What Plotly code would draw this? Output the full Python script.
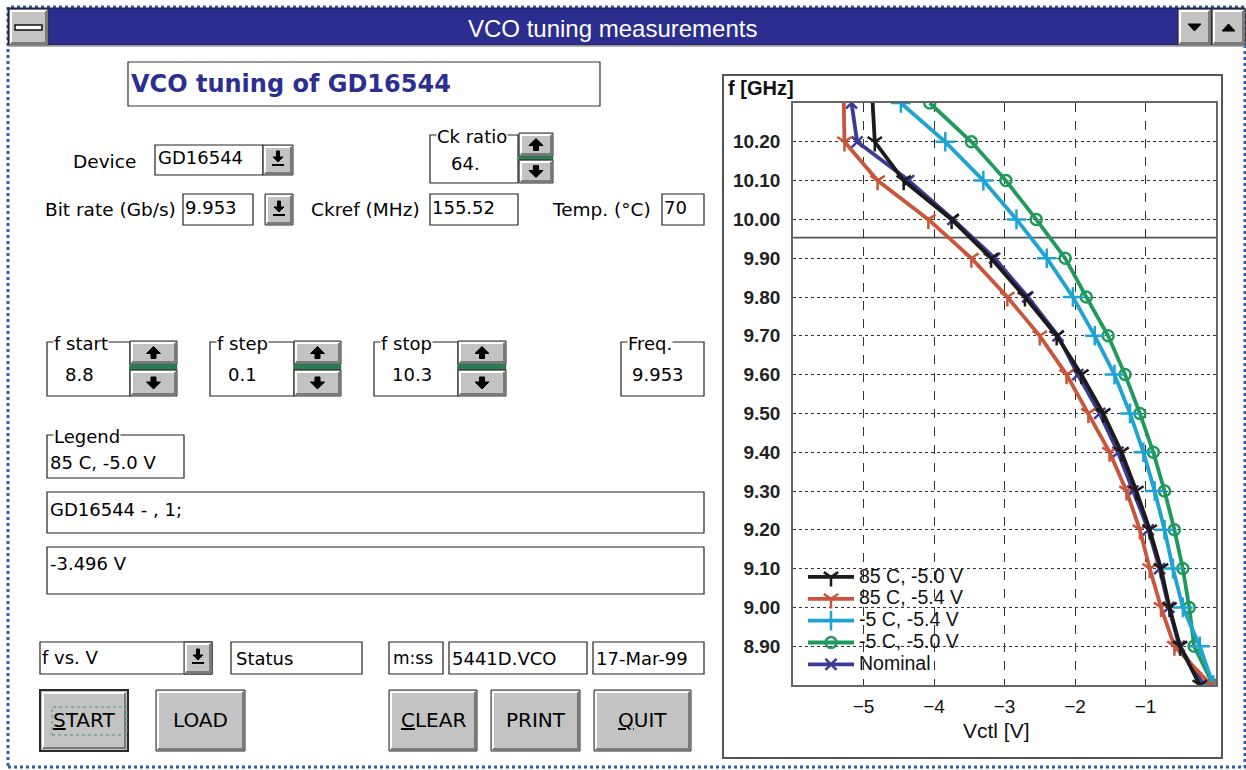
import plotly.graph_objects as go

W, H = 1246, 770
FONT = "Liberation Sans"
GUI = "DejaVu Sans"

# ---------------- data ----------------
f_ghz = [8.8, 8.9, 9.0, 9.1, 9.2, 9.3, 9.4, 9.5, 9.6, 9.7, 9.8, 9.9, 10.0, 10.1, 10.2, 10.3]
v_85c_50 = [-0.23, -0.51, -0.66, -0.78, -0.94, -1.13, -1.34, -1.60, -1.91, -2.26, -2.71, -3.19, -3.75, -4.43, -4.84, -4.87]
v_85c_54 = [-0.07, -0.59, -0.78, -0.94, -1.08, -1.27, -1.51, -1.81, -2.12, -2.50, -2.96, -3.47, -4.08, -4.80, -5.27, -5.28]
v_m5c_54 = [-0.04, -0.23, -0.47, -0.61, -0.73, -0.87, -1.03, -1.22, -1.44, -1.72, -2.03, -2.40, -2.83, -3.30, -3.84, -4.47]
v_m5c_50 = [-0.04, -0.31, -0.38, -0.47, -0.59, -0.73, -0.89, -1.08, -1.29, -1.53, -1.84, -2.14, -2.55, -2.98, -3.47, -4.06]
v_nominal = [-0.17, -0.52, -0.67, -0.80, -0.96, -1.18, -1.39, -1.65, -1.96, -2.24, -2.67, -3.14, -3.73, -4.36, -5.09, -5.17]
series_names = ["85 C, -5.0 V", "85 C, -5.4 V", "-5 C, -5.4 V", "-5 C, -5.0 V", "Nominal"]
x_ticks = [-5, -4, -3, -2, -1]
y_ticks = [8.9, 9.0, 9.1, 9.2, 9.3, 9.4, 9.5, 9.6, 9.7, 9.8, 9.9, 10.0, 10.1, 10.2]
x_range = [-6, 0]
y_range = [8.8, 10.3]
freq_marker = 9.953

# ---------------- styles ----------------
styles = {
    "85 C, -5.0 V": dict(color="#1b1b1b", symbol="y-down", size=12, rank=1),
    "85 C, -5.4 V": dict(color="#c9553b", symbol="y-down", size=12, rank=2),
    "-5 C, -5.4 V": dict(color="#1ea3d2", symbol="cross-thin", size=14, rank=3),
    "-5 C, -5.0 V": dict(color="#1f9a5c", symbol="circle-open", size=11, rank=4),
    "Nominal": dict(color="#3c3a96", symbol="x-thin", size=11, rank=5),
}
values = dict(zip(series_names, [v_85c_50, v_85c_54, v_m5c_54, v_m5c_50, v_nominal]))
draw_order = ["Nominal", "-5 C, -5.0 V", "-5 C, -5.4 V", "85 C, -5.4 V", "85 C, -5.0 V"]


def px(x):
    return x / W


def py(y):
    return 1 - y / H


shapes = []
annotations = []


def rect(x0, y0, x1, y1, fill=None, color="#000", lw=1, dash="solid"):
    shapes.append(dict(type="rect", xref="paper", yref="paper", x0=px(x0), x1=px(x1),
                       y0=py(y1), y1=py(y0), fillcolor=fill if fill else "rgba(0,0,0,0)",
                       line=dict(color=color, width=lw, dash=dash), layer="above"))


def poly(points, fill=None, color="#000", lw=1, closed=True):
    d = "M " + " L ".join(f"{px(x):.5f},{py(y):.5f}" for x, y in points)
    if closed:
        d += " Z"
    shapes.append(dict(type="path", xref="paper", yref="paper", path=d,
                       fillcolor=fill if fill else "rgba(0,0,0,0)",
                       line=dict(color=color, width=lw), layer="above"))


def text(x, y, s, size=18, color="#000", bold=False, xanchor="left", bg=None, family=GUI):
    annotations.append(dict(xref="paper", yref="paper", x=px(x), y=py(y), text=s,
                            showarrow=False, xanchor=xanchor, yanchor="middle",
                            font=dict(family=family, size=size, color=color,
                                      weight="bold" if bold else "normal"),
                            bgcolor=bg if bg else "rgba(0,0,0,0)", borderpad=0))


def bevel(x0, y0, x1, y1, thick=False):
    rect(x0, y0, x1, y1, fill="#c3c3c3", color="#2a2a2a", lw=2 if thick else 1)
    o = 3 if thick else 2
    poly([(x0 + o, y1 - o), (x0 + o, y0 + o), (x1 - o, y0 + o)], color="#ffffff", lw=2, closed=False)
    poly([(x0 + o, y1 - o), (x1 - o, y1 - o), (x1 - o, y0 + o)], color="#7a7a7a", lw=2, closed=False)


def arrow_up(cx, cy):
    poly([(cx, cy - 6), (cx + 7, cy + 1), (cx + 2.5, cy + 1), (cx + 2.5, cy + 6),
          (cx - 2.5, cy + 6), (cx - 2.5, cy + 1), (cx - 7, cy + 1)], fill="#000", color="#000", lw=1)


def arrow_down(cx, cy):
    poly([(cx, cy + 6), (cx + 7, cy - 1), (cx + 2.5, cy - 1), (cx + 2.5, cy - 6),
          (cx - 2.5, cy - 6), (cx - 2.5, cy - 1), (cx - 7, cy - 1)], fill="#000", color="#000", lw=1)


def drop_arrow(cx, cy):
    poly([(cx, cy + 4), (cx + 5, cy - 1), (cx + 1.5, cy - 1), (cx + 1.5, cy - 7),
          (cx - 1.5, cy - 7), (cx - 1.5, cy - 1), (cx - 5, cy - 1)], fill="#000", color="#000", lw=1)
    poly([(cx - 6, cy + 7), (cx + 6, cy + 7)], color="#000", lw=2, closed=False)


def spinner(x0, x1, y0, y1, mid0, mid1):
    bevel(x0, y0, x1, mid0)
    rect(x0, mid0, x1, mid1, fill="#2d7a52", color="#2d7a52", lw=0.5)
    bevel(x0, mid1, x1, y1)
    arrow_up((x0 + x1) / 2, (y0 + mid0) / 2)
    arrow_down((x0 + x1) / 2, (mid1 + y1) / 2)


def group(x0, y0, x1, y1, title, value, vx):
    rect(x0, y0, x1, y1, color="#222", lw=1.2)
    text(x0 + 6, y0 + 1, title, size=18, bg="#ffffff")
    if value:
        text(vx, (y0 + y1) / 2 + 5, value, size=18)


# ---------------- window chrome ----------------
rect(8, 7, 1245, 767, color="#2f5fa8", lw=3, dash="dot")
rect(8, 8, 1245, 45, fill="#2b2e8f", color="#1a1a40", lw=1)
bevel(9, 9, 48, 45)
rect(15, 25, 42, 30, fill="#ffffff", color="#111", lw=1.5)
bevel(1178, 9, 1211, 45)
bevel(1212, 9, 1245, 45)
poly([(1188, 24), (1201, 24), (1194.5, 31)], fill="#000", color="#000")
poly([(1222, 31), (1235, 31), (1228.5, 24)], fill="#000", color="#000")
text(612, 28, "VCO tuning measurements", size=24, color="#ffffff", xanchor="center", family=FONT)
poly([(8, 46), (1245, 46)], color="#9a9a9a", lw=1.5, closed=False)

# ---------------- left panel ----------------
rect(128, 62, 600, 106, color="#333", lw=1.2)
text(130, 84, "VCO tuning of GD16544", size=24, color="#2b2f8f", bold=True)

text(72, 161, "Device", size=18.5)
rect(155, 145, 263, 175, color="#222", lw=1.2)
text(157, 158, "GD16544", size=18)
bevel(263, 145, 293, 175)
drop_arrow(278, 158)

group(430, 135, 518, 183, "Ck ratio", "64.", 450)
spinner(519, 553, 133, 183, 156, 160)

text(44, 210, "Bit rate (Gb/s)", size=18.5)
rect(183, 194, 253, 225, color="#222", lw=1.2)
text(184, 208, "9.953", size=18)
bevel(265, 194, 293, 225)
drop_arrow(279, 208)
text(310, 210, "Ckref (MHz)", size=18.5)
rect(430, 194, 518, 225, color="#222", lw=1.2)
text(431, 208, "155.52", size=18)
text(551, 210, "Temp. (°C)", size=18.5)
rect(662, 194, 704, 225, color="#222", lw=1.2)
text(663, 208, "70", size=18)

for (t, v, gx0, gx1, sx0, sx1) in [("f start", "8.8", 47, 130, 130, 177),
                                   ("f step", "0.1", 210, 294, 294, 341),
                                   ("f stop", "10.3", 374, 458, 458, 506)]:
    group(gx0, 342, gx1, 396, t, v, gx0 + 17)
    spinner(sx0, sx1, 341, 396, 364, 370)
group(621, 342, 704, 396, "Freq.", "9.953", 631)

group(47, 435, 184, 478, "Legend", "", 52)
text(49, 462, "85 C, -5.0 V", size=18)

rect(47, 492, 704, 533, color="#222", lw=1.2)
text(49, 509, "GD16544 - , 1;", size=18)
rect(47, 547, 704, 594, color="#222", lw=1.2)
text(49, 563, "-3.496 V", size=18)

rect(40, 642, 212, 674, color="#222", lw=1.2)
text(41, 657, "f vs. V", size=18)
bevel(184, 642, 212, 674)
drop_arrow(198, 656)
rect(231, 642, 362, 674, color="#222", lw=1.2)
text(235, 658, "Status", size=18)
rect(389, 642, 443, 674, color="#222", lw=1.2)
text(392, 658, "m:ss", size=17)
rect(449, 642, 587, 674, color="#222", lw=1.2)
text(451, 658, "5441D.VCO", size=18)
rect(593, 642, 704, 674, color="#222", lw=1.2)
text(595, 658, "17-Mar-99", size=18)

for (lbl, x0, x1, thick) in [("<u>S</u>TART", 40, 128, True), ("LOAD", 156, 245, False),
                             ("<u>C</u>LEAR", 389, 477, False), ("PRINT", 491, 580, False),
                             ("<u>Q</u>UIT", 594, 691, False)]:
    bevel(x0, 690, x1, 751, thick=thick)
    text((x0 + x1) / 2, 720, lbl, size=20, xanchor="center")
rect(52, 707, 127, 735, color="#3aa07a", lw=1, dash="dot")

# ---------------- chart frame ----------------
rect(723, 75, 1222, 758, color="#555", lw=2)
text(727, 88, "f [GHz]", size=20, bold=True, color="#111", family=FONT)
text(996, 730, "Vctl [V]", size=21, xanchor="center", color="#111", family=FONT)

# ---------------- traces ----------------
fig = go.Figure()
for name in draw_order:
    st = styles[name]
    fig.add_trace(go.Scatter(
        x=values[name], y=f_ghz, mode="lines+markers",
        name=f'<span style="font-size:19.5px">{name}</span>',
        legendrank=st["rank"],
        line=dict(color=st["color"], width=3.8),
        marker=dict(symbol=st["symbol"], size=st["size"], color=st["color"],
                    line=dict(color=st["color"], width=2.5)),
        hoverinfo="skip",
    ))

fig.add_shape(type="line", xref="x", yref="y", x0=x_range[0], x1=x_range[1],
              y0=freq_marker, y1=freq_marker, line=dict(color="#555", width=1.6), layer="below")

fig.update_layout(
    width=W, height=H, margin=dict(l=0, r=0, t=0, b=0),
    paper_bgcolor="#ffffff", plot_bgcolor="#ffffff",
    shapes=list(fig.layout.shapes) + shapes, annotations=annotations,
    showlegend=True,
    legend=dict(x=px(803), y=py(561), xanchor="left", yanchor="top",
                bgcolor="rgba(0,0,0,0)", font=dict(family=FONT, size=14.5, color="#111"),
                itemwidth=46, tracegroupgap=0, traceorder="normal"),
    xaxis=dict(domain=[px(793), px(1216)], range=x_range, tickvals=x_ticks,
               showgrid=True, gridcolor="#333", gridwidth=1, griddash="dash",
               zeroline=False, showline=True, linecolor="#666", linewidth=1.5, mirror=True,
               ticks="", ticklabelstandoff=3,
               tickfont=dict(family=FONT, size=19, color="#111")),
    yaxis=dict(domain=[py(685), py(103)], range=y_range, tickvals=y_ticks, tickformat=".2f",
               showgrid=True, gridcolor="#333", gridwidth=1, griddash="dot",
               zeroline=False, showline=True, linecolor="#666", linewidth=1.5, mirror=True,
               ticks="", ticklabelstandoff=7,
               tickfont=dict(family=FONT, size=19, color="#222", weight="bold")),
)

fig.write_html("out.html", config={"displayModeBar": False},
               post_script="document.body.style.margin='0px';document.body.style.overflow='hidden';")
